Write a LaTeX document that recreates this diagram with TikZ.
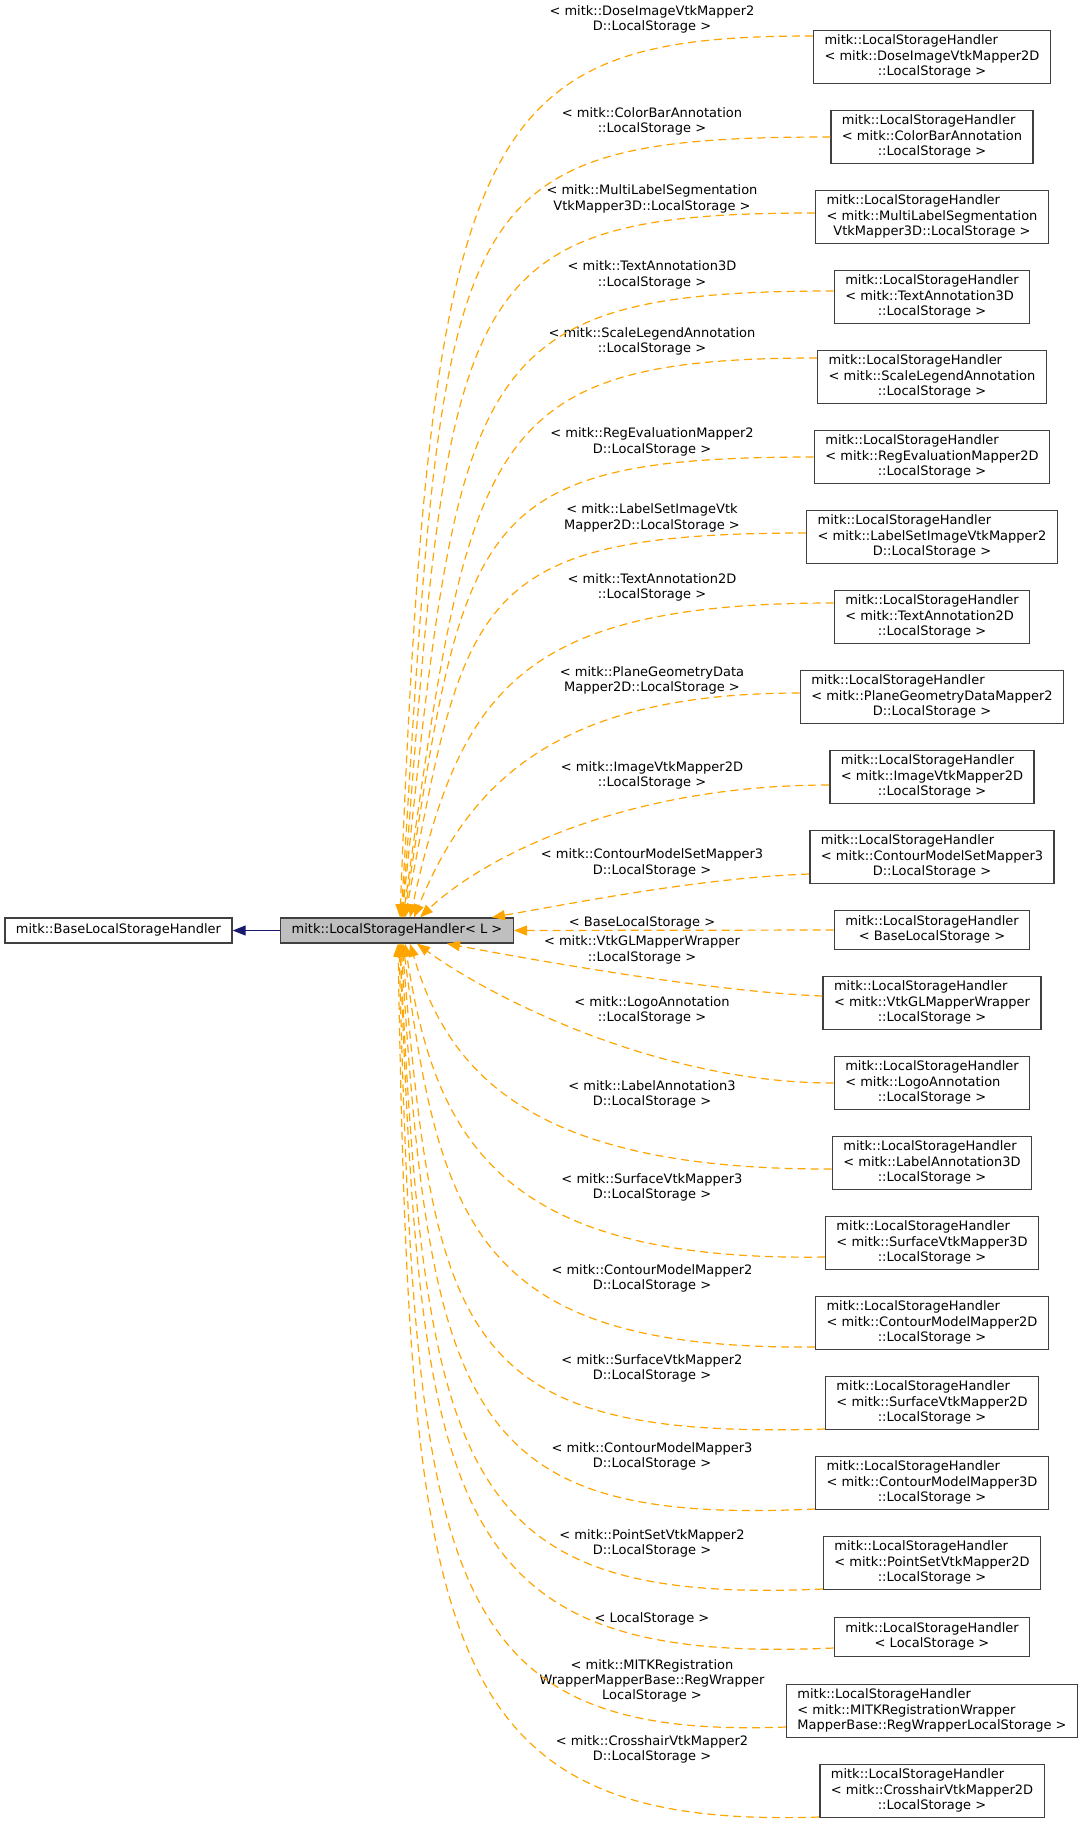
\documentclass[tikz,border=0pt]{standalone}
\usepackage{fontspec}
\setmainfont{DejaVu Sans}
\usepackage{tikz}
\usetikzlibrary{arrows.meta, positioning, calc}
\definecolor{EdgeOrange}{RGB}{255,165,0}
\definecolor{EdgeBlue}{RGB}{25,25,112}
\definecolor{BoxBorder}{RGB}{64,64,64}
\definecolor{BoxFill}{RGB}{191,191,191}
\newcommand{\clsthree}[3]{\begin{tabular}{@{}l@{}}#1\\#2\\\multicolumn{1}{@{}c@{}}{#3}\end{tabular}}
\newcommand{\clstwo}[2]{\begin{tabular}{@{}c@{}}#1\\#2\end{tabular}}
\newcommand{\clsone}[1]{\begin{tabular}{@{}c@{}}#1\end{tabular}}
\tikzset{
  classbox/.style={draw=BoxBorder, line width=1.3pt, fill=white, inner xsep=11pt, inner ysep=4pt, font=\fontsize{13}{15.2}\selectfont},
  rightbox/.style={classbox, minimum width=195pt},
  edgelabel/.style={align=center, inner sep=0pt, font=\fontsize{13}{15.2}\selectfont},
  templ/.style={draw=EdgeOrange, line width=1.2pt, dash pattern=on 8pt off 5pt, -{Triangle[length=13pt,width=10pt]}},
  inherit/.style={draw=EdgeBlue, line width=1.2pt, -{Triangle[length=13pt,width=10pt]}}
}

\begin{document}
\begin{tikzpicture}[x=1pt, y=-1pt]
  \useasboundingbox (0,0) rectangle (1084,1831);
  \node[classbox, minimum height=25pt] (base) at (118.5,930.5) {\clsone{mitk::BaseLocalStorageHandler}};
  \node[classbox, minimum height=25pt, fill=BoxFill] (lsh) at (397,930.5) {\clsone{mitk::LocalStorageHandler< L >}};

  \node[rightbox] (dose) at (932,57) {\clsthree{mitk::LocalStorageHandler}{< mitk::DoseImageVtkMapper2D}{::LocalStorage >}};
  \node[rightbox] (colorbar) at (932,137) {\clsthree{mitk::LocalStorageHandler}{< mitk::ColorBarAnnotation}{::LocalStorage >}};
  \node[rightbox] (multilabel) at (932,217) {\clsthree{mitk::LocalStorageHandler}{< mitk::MultiLabelSegmentation}{VtkMapper3D::LocalStorage >}};
  \node[rightbox] (text3d) at (932,297) {\clsthree{mitk::LocalStorageHandler}{< mitk::TextAnnotation3D}{::LocalStorage >}};
  \node[rightbox] (scalelegend) at (932,377) {\clsthree{mitk::LocalStorageHandler}{< mitk::ScaleLegendAnnotation}{::LocalStorage >}};
  \node[rightbox] (regeval) at (932,457) {\clsthree{mitk::LocalStorageHandler}{< mitk::RegEvaluationMapper2D}{::LocalStorage >}};
  \node[rightbox] (labelset) at (932,537) {\clsthree{mitk::LocalStorageHandler}{< mitk::LabelSetImageVtkMapper2}{D::LocalStorage >}};
  \node[rightbox] (text2d) at (932,617) {\clsthree{mitk::LocalStorageHandler}{< mitk::TextAnnotation2D}{::LocalStorage >}};
  \node[rightbox] (planegeo) at (932,697) {\clsthree{mitk::LocalStorageHandler}{< mitk::PlaneGeometryDataMapper2}{D::LocalStorage >}};
  \node[rightbox] (imagevtk) at (932,777) {\clsthree{mitk::LocalStorageHandler}{< mitk::ImageVtkMapper2D}{::LocalStorage >}};
  \node[rightbox] (contourset) at (932,857) {\clsthree{mitk::LocalStorageHandler}{< mitk::ContourModelSetMapper3}{D::LocalStorage >}};
  \node[rightbox] (baselocal) at (932,930) {\clstwo{mitk::LocalStorageHandler}{< BaseLocalStorage >}};
  \node[rightbox] (vtkgl) at (932,1003) {\clsthree{mitk::LocalStorageHandler}{< mitk::VtkGLMapperWrapper}{::LocalStorage >}};
  \node[rightbox] (logo) at (932,1083) {\clsthree{mitk::LocalStorageHandler}{< mitk::LogoAnnotation}{::LocalStorage >}};
  \node[rightbox] (label3d) at (932,1163) {\clsthree{mitk::LocalStorageHandler}{< mitk::LabelAnnotation3D}{::LocalStorage >}};
  \node[rightbox] (surface3d) at (932,1243) {\clsthree{mitk::LocalStorageHandler}{< mitk::SurfaceVtkMapper3D}{::LocalStorage >}};
  \node[rightbox] (contour2d) at (932,1323) {\clsthree{mitk::LocalStorageHandler}{< mitk::ContourModelMapper2D}{::LocalStorage >}};
  \node[rightbox] (surface2d) at (932,1403) {\clsthree{mitk::LocalStorageHandler}{< mitk::SurfaceVtkMapper2D}{::LocalStorage >}};
  \node[rightbox] (contour3d) at (932,1483) {\clsthree{mitk::LocalStorageHandler}{< mitk::ContourModelMapper3D}{::LocalStorage >}};
  \node[rightbox] (pointset) at (932,1563) {\clsthree{mitk::LocalStorageHandler}{< mitk::PointSetVtkMapper2D}{::LocalStorage >}};
  \node[rightbox] (localst) at (932,1637) {\clstwo{mitk::LocalStorageHandler}{< LocalStorage >}};
  \node[rightbox] (regwrap) at (932,1711) {\clsthree{mitk::LocalStorageHandler}{< mitk::MITKRegistrationWrapper}{MapperBase::RegWrapperLocalStorage >}};
  \node[rightbox] (crosshair) at (932,1791) {\clsthree{mitk::LocalStorageHandler}{< mitk::CrosshairVtkMapper2D}{::LocalStorage >}};

  \node[edgelabel] (l-dose) at (652,19.5) {< mitk::DoseImageVtkMapper2\\D::LocalStorage >};
  \node[edgelabel] (l-colorbar) at (652,121.5) {< mitk::ColorBarAnnotation\\::LocalStorage >};
  \node[edgelabel] (l-multilabel) at (652,199) {< mitk::MultiLabelSegmentation\\VtkMapper3D::LocalStorage >};
  \node[edgelabel] (l-text3d) at (652,275) {< mitk::TextAnnotation3D\\::LocalStorage >};
  \node[edgelabel] (l-scalelegend) at (652,341.5) {< mitk::ScaleLegendAnnotation\\::LocalStorage >};
  \node[edgelabel] (l-regeval) at (652,442) {< mitk::RegEvaluationMapper2\\D::LocalStorage >};
  \node[edgelabel] (l-labelset) at (652,518) {< mitk::LabelSetImageVtk\\Mapper2D::LocalStorage >};
  \node[edgelabel] (l-text2d) at (652,587.5) {< mitk::TextAnnotation2D\\::LocalStorage >};
  \node[edgelabel] (l-planegeo) at (652,680.5) {< mitk::PlaneGeometryData\\Mapper2D::LocalStorage >};
  \node[edgelabel] (l-imagevtk) at (652,775.5) {< mitk::ImageVtkMapper2D\\::LocalStorage >};
  \node[edgelabel] (l-contourset) at (652,863) {< mitk::ContourModelSetMapper3\\D::LocalStorage >};
  \node[edgelabel] (l-baselocal) at (642,922.5) {< BaseLocalStorage >};
  \node[edgelabel] (l-vtkgl) at (642,950) {< mitk::VtkGLMapperWrapper\\::LocalStorage >};
  \node[edgelabel] (l-logo) at (652,1010) {< mitk::LogoAnnotation\\::LocalStorage >};
  \node[edgelabel] (l-label3d) at (652,1094) {< mitk::LabelAnnotation3\\D::LocalStorage >};
  \node[edgelabel] (l-surface3d) at (652,1187) {< mitk::SurfaceVtkMapper3\\D::LocalStorage >};
  \node[edgelabel] (l-contour2d) at (652,1278) {< mitk::ContourModelMapper2\\D::LocalStorage >};
  \node[edgelabel] (l-surface2d) at (652,1368) {< mitk::SurfaceVtkMapper2\\D::LocalStorage >};
  \node[edgelabel] (l-contour3d) at (652,1456) {< mitk::ContourModelMapper3\\D::LocalStorage >};
  \node[edgelabel] (l-pointset) at (652,1543) {< mitk::PointSetVtkMapper2\\D::LocalStorage >};
  \node[edgelabel] (l-localst) at (652,1619) {< LocalStorage >};
  \node[edgelabel] (l-regwrap) at (652,1681) {< mitk::MITKRegistration\\WrapperMapperBase::RegWrapper\\LocalStorage >};
  \node[edgelabel] (l-crosshair) at (652,1749.5) {< mitk::CrosshairVtkMapper2\\D::LocalStorage >};

  \draw[inherit] (lsh) -- (base);
  \draw[templ] (baselocal.west) -- (lsh.east);
  \foreach \n/\sy/\ax/\ay/\bx/\by/\ex in {dose/21/480/36/430/120/3, colorbar/0/440/137/445/200/4,
      multilabel/4/450/213/450/287/5, text3d/6/465/291/460/365/5, scalelegend/19/480/358/470/440/6,
      regeval/0/470/457/465/520/7, labelset/4/470/533/465/600/8, text2d/14/520/603/460/690/13,
      planegeo/4/560/693/470/780/17, imagevtk/-8/620/785/480/860/23, contourset/-17/700/878/580/902/95}
    \draw[templ] ([yshift=\sy pt]\n.west) .. controls (\ax,\ay) and (\bx,\by) .. ([xshift=\ex pt]lsh.north);
  \foreach \n/\sy/\ax/\ay/\bx/\by/\ex in {vtkgl/7/720/992/560/965/50, logo/0/650/1083/480/990/20,
      label3d/-6/540/1170/450/1080/13, surface3d/-14/500/1262/435/1140/8, contour2d/-24/480/1350/440/1230/6,
      surface2d/-26/460/1440/435/1340/5, contour3d/-26/470/1525/430/1420/4, pointset/-26/460/1605/425/1480/3,
      localst/-11/450/1665/420/1520/3, regwrap/-16/440/1740/415/1580/2, crosshair/-26/430/1830/410/1640/1}
    \draw[templ] ([yshift=\sy pt]\n.west) .. controls (\ax,\ay) and (\bx,\by) .. ([xshift=\ex pt]lsh.south);
\end{tikzpicture}
\end{document}
